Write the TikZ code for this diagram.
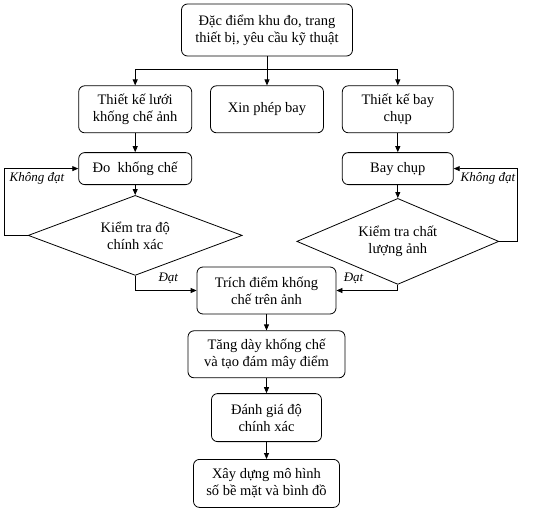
\documentclass[tikz,border=0pt]{standalone}
\usepackage{fontspec}
\setmainfont{Liberation Serif}
\usetikzlibrary{positioning,arrows.meta,shapes.geometric}
\tikzset{
  box/.style={rectangle,rounded corners=6pt,draw=black,line width=.8pt,fill=white,align=center,inner sep=2pt,font=\fontsize{14.5}{17}\selectfont},
  decision/.style={diamond,shape aspect=2.6,draw=black,line width=.8pt,align=center,inner sep=0pt,font=\fontsize{14.5}{17}\selectfont},
  arrow/.style={-{Triangle[length=6pt,width=5pt]},draw=black,line width=.8pt},
  tinylabel/.style={font=\fontsize{13}{15}\itshape\selectfont,inner sep=1pt}
}
\begin{document}
\begin{tikzpicture}[x=1pt,y=-1pt,node distance=16pt]
  \useasboundingbox (0,0) rectangle (536,514);
  % top row
  \node[box,minimum width=171pt,minimum height=52pt] (survey) at (267,30) {Đặc điểm khu đo, trang\\thiết bị, yêu cầu kỹ thuật};
  \node[box,minimum width=113pt,minimum height=47pt,below=29pt of survey] (permit) {Xin phép bay};
  \node[box,minimum width=113pt,minimum height=47pt,left=18pt of permit] (gcpdesign) {Thiết kế lưới\\khống chế ảnh};
  \node[box,minimum width=111pt,minimum height=47pt,right=18pt of permit] (flightdesign) {Thiết kế bay\\chụp};
  \coordinate (split) at (267,69);
  \draw[line width=.8pt] (survey.south) -- (split);
  \draw[arrow] (split) -| (gcpdesign.north);
  \draw[arrow] (split) -- (permit.north);
  \draw[arrow] (split) -| (flightdesign.north);
  % left branch
  \node[box,minimum width=113pt,minimum height=32pt,below=19pt of gcpdesign] (gcpsurvey) {Đo\ \ khống chế};
  \node[decision,minimum width=214pt,minimum height=80pt,below=10pt of gcpsurvey] (checkacc) {Kiểm tra độ\\chính xác};
  \draw[arrow] (gcpdesign) -- (gcpsurvey);
  \draw[arrow] (gcpsurvey) -- (checkacc);
  \coordinate (loopleft) at (4,0);
  \draw[arrow] (checkacc.west) -- (checkacc.west -| loopleft) |- (gcpsurvey.west);
  \node[tinylabel] (failleft) at (37,178) {Không đạt};
  % right branch
  \node[box,minimum width=111pt,minimum height=32pt,below=19pt of flightdesign] (flight) {Bay chụp};
  \node[decision,minimum width=202pt,minimum height=86pt,below=13pt of flight] (checkimg) {Kiểm tra chất\\lượng ảnh};
  \draw[arrow] (flightdesign) -- (flight);
  \draw[arrow] (flight) -- (checkimg);
  \coordinate (loopright) at (517,0);
  \draw[arrow] (checkimg.east) -- (checkimg.east -| loopright) |- (flight.east);
  \node[tinylabel] (failright) at (488,178) {Không đạt};
  % main chain
  \node[box,minimum width=139pt,minimum height=47pt] (extract) at (266.5,290.5) {Trích điểm khống\\chế trên ảnh};
  \draw[arrow] (checkacc.south) |- node[tinylabel,pos=.77,above=5pt] (passleft) {Đạt} (extract.west);
  \draw[arrow] (checkimg.south) |- node[tinylabel,pos=.86,above=5pt] (passright) {Đạt} (extract.east);
  \node[box,minimum width=157pt,minimum height=47pt,below=of extract] (densify) {Tăng dày khống chế\\và tạo đám mây điểm};
  \node[box,minimum width=110pt,minimum height=48pt,below=15pt of densify] (assess) {Đánh giá độ\\chính xác};
  \node[box,minimum width=146pt,minimum height=48pt,below=17pt of assess] (model) {Xây dựng mô hình\\số bề mặt và bình đồ};
  \draw[arrow] (extract) -- (densify);
  \draw[arrow] (densify) -- (assess);
  \draw[arrow] (assess) -- (model);
\end{tikzpicture}
\end{document}
